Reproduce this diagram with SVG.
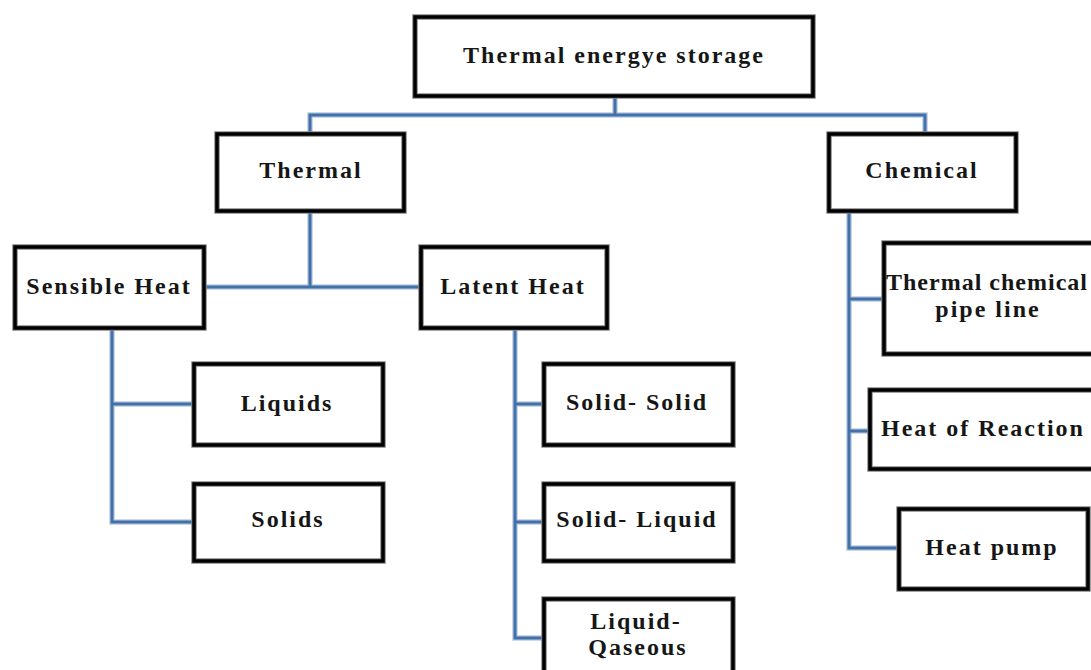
<svg xmlns="http://www.w3.org/2000/svg" width="1091" height="670" viewBox="0 0 1091 670">
<style>
.box rect.o{fill:#fff;stroke:#858585;stroke-width:5.5}
.box rect.i{fill:none;stroke:#000;stroke-width:3.5}
.box text{font-family:'Liberation Serif','DejaVu Serif',serif;font-weight:bold;font-size:24px;letter-spacing:2px;fill:#161616;text-anchor:middle}
#connectors path{fill:none;stroke-linejoin:miter;stroke-linecap:butt}
#connectors .halo{stroke:#b9cbe4;stroke-width:5.5}
#connectors .core{stroke:#4470a8;stroke-width:3}
</style>
<rect width="1091" height="670" fill="#fff"/>
<g id="connectors">
<g class="halo">
<path d="M615 98V115M310 132V115H925V132"/>
<path d="M310 213V287M205 287H419"/>
<path d="M112 329V522H192M112 404H192"/>
<path d="M515 330V638H542M515 404H542M515 522H542"/>
<path d="M849 213V548H897M849 299H882M849 431H868"/>
</g>
<g class="core">
<path d="M615 98V115M310 132V115H925V132"/>
<path d="M310 213V287M205 287H419"/>
<path d="M112 329V522H192M112 404H192"/>
<path d="M515 330V638H542M515 404H542M515 522H542"/>
<path d="M849 213V548H897M849 299H882M849 431H868"/>
</g>
</g>
<g font-family="Liberation Serif, serif">
<g id="node-root" class="box"><rect class="o" x="415" y="17" width="398" height="79"/><rect class="i" x="415" y="17" width="398" height="79"/><text x="614" y="63">Thermal energye storage</text></g>
<g id="node-thermal" class="box"><rect class="o" x="217" y="134" width="187" height="77"/><rect class="i" x="217" y="134" width="187" height="77"/><text x="311" y="178">Thermal</text></g>
<g id="node-chemical" class="box"><rect class="o" x="829" y="134" width="187" height="77"/><rect class="i" x="829" y="134" width="187" height="77"/><text x="922" y="178">Chemical</text></g>
<g id="node-sensible" class="box"><rect class="o" x="15" y="247" width="189" height="81"/><rect class="i" x="15" y="247" width="189" height="81"/><text x="109" y="294">Sensible Heat</text></g>
<g id="node-latent" class="box"><rect class="o" x="421" y="247" width="186" height="81"/><rect class="i" x="421" y="247" width="186" height="81"/><text x="513" y="294">Latent Heat</text></g>
<g id="node-liquids" class="box"><rect class="o" x="194" y="364" width="189" height="81"/><rect class="i" x="194" y="364" width="189" height="81"/><text x="287" y="411">Liquids</text></g>
<g id="node-solids" class="box"><rect class="o" x="194" y="484" width="189" height="77"/><rect class="i" x="194" y="484" width="189" height="77"/><text x="288" y="527">Solids</text></g>
<g id="node-solid-solid" class="box"><rect class="o" x="544" y="364" width="189" height="81"/><rect class="i" x="544" y="364" width="189" height="81"/><text x="637" y="410">Solid- Solid</text></g>
<g id="node-solid-liquid" class="box"><rect class="o" x="544" y="484" width="189" height="77"/><rect class="i" x="544" y="484" width="189" height="77"/><text x="637" y="527">Solid- Liquid</text></g>
<g id="node-liquid-gaseous" class="box"><rect class="o" x="544" y="599" width="189" height="100"/><rect class="i" x="544" y="599" width="189" height="100"/><text x="636" y="629">Liquid-</text><text x="638" y="655">Qaseous</text></g>
<g id="node-pipeline" class="box"><rect class="o" x="884" y="243" width="212" height="111"/><rect class="i" x="884" y="243" width="212" height="111"/><text x="987" y="290" style="letter-spacing:1px">Thermal chemical</text><text x="988" y="317">pipe line</text></g>
<g id="node-reaction" class="box"><rect class="o" x="870" y="390" width="226" height="79"/><rect class="i" x="870" y="390" width="226" height="79"/><text x="983" y="436">Heat of Reaction</text></g>
<g id="node-heatpump" class="box"><rect class="o" x="899" y="509" width="189" height="80"/><rect class="i" x="899" y="509" width="189" height="80"/><text x="992" y="555">Heat pump</text></g>
</g>
</svg>
